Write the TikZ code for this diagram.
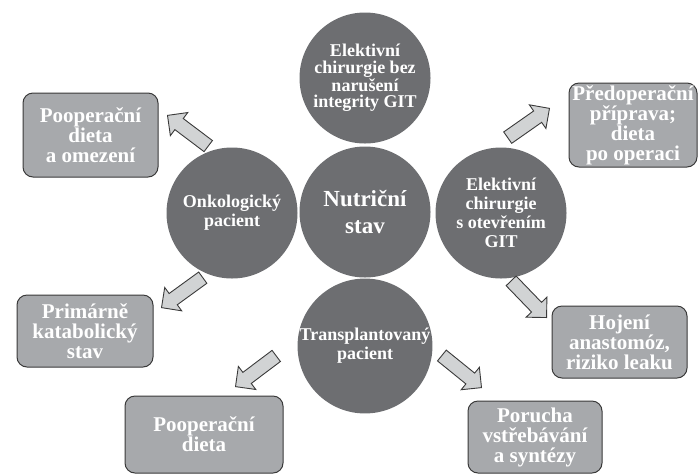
\documentclass[tikz,border=0pt]{standalone}
\usepackage{fontspec}
\setmainfont{Liberation Serif}
\usepackage{xcolor}
\usetikzlibrary{shapes.arrows}
\definecolor{circgray}{HTML}{6D6E71}
\definecolor{boxgray}{HTML}{A7A9AC}
\definecolor{arrgray}{HTML}{D1D3D4}
\definecolor{edgegray}{HTML}{3A3A3A}
\tikzset{
    cnode/.style={circle, fill=circgray, minimum size=131pt, inner sep=0pt,
                  align=center, text=white,
                  font=\fontsize{18}{19}\selectfont\bfseries},
    rbox/.style={rectangle, rounded corners=10pt, draw=edgegray, line width=1pt,
                 fill=boxgray, align=center, inner sep=0pt, text=white,
                 font=\fontsize{21}{20}\selectfont\bfseries},
    farr/.style={single arrow, draw=edgegray, line width=0.9pt, fill=arrgray,
                 single arrow tip angle=90, single arrow head extend=7.5pt,
                 inner sep=6.5pt, minimum height=51pt, anchor=tip}
}

\begin{document}
\begin{tikzpicture}[x=1pt, y=-1pt]
\useasboundingbox (0,0) rectangle (698,475);

% circles
\node[cnode, font=\fontsize{18}{16.5}\selectfont\bfseries] at (365,78) (top)
    {Elektivní\\chirurgie bez\\narušení\\integrity GIT};
\node[cnode, font=\fontsize{23}{27}\selectfont\bfseries]   at (365,212) (nutr)
    {Nutriční\\stav};
\node[cnode] at (232,213) (onko)   {Onkologický\\pacient};
\node[cnode] at (501,213) (git)    {Elektivní\\chirurgie\\s otevřením\\GIT};
\node[cnode] at (365,346) (transp) {Transplantovaný\\pacient};

% boxes
\node[rbox, minimum width=135pt, minimum height=84pt] at (90.5,135) (poop)
    {Pooperační\\dieta\\a omezení};
\node[rbox, minimum width=128pt, minimum height=84pt] at (633,125)  (predop)
    {Předoperační\\příprava;\\dieta\\po operaci};
\node[rbox, minimum width=136pt, minimum height=72pt] at (85,331)   (katab)
    {Primárně\\katabolický\\stav};
\node[rbox, minimum width=158pt, minimum height=77pt] at (204,434.5) (diet)
    {Pooperační\\dieta};
\node[rbox, minimum width=135pt, minimum height=72pt] at (619.5,342) (hoj)
    {Hojení\\anastomóz,\\riziko leaku};
\node[rbox, minimum width=134pt, minimum height=72pt] at (535,437)  (por)
    {Porucha\\vstřebávání\\a syntézy};

% block arrows
\node[farr, rotate=143]  at (167,115) (a1) {};
\node[farr, rotate=35]   at (550,108) (a2) {};
\node[farr, rotate=216]  at (161,308) (a3) {};
\node[farr, rotate=217]  at (235,387) (a4) {};
\node[farr, rotate=-46]  at (547,318) (a5) {};
\node[farr, rotate=-39]  at (482,388) (a6) {};
\end{tikzpicture}
\end{document}
